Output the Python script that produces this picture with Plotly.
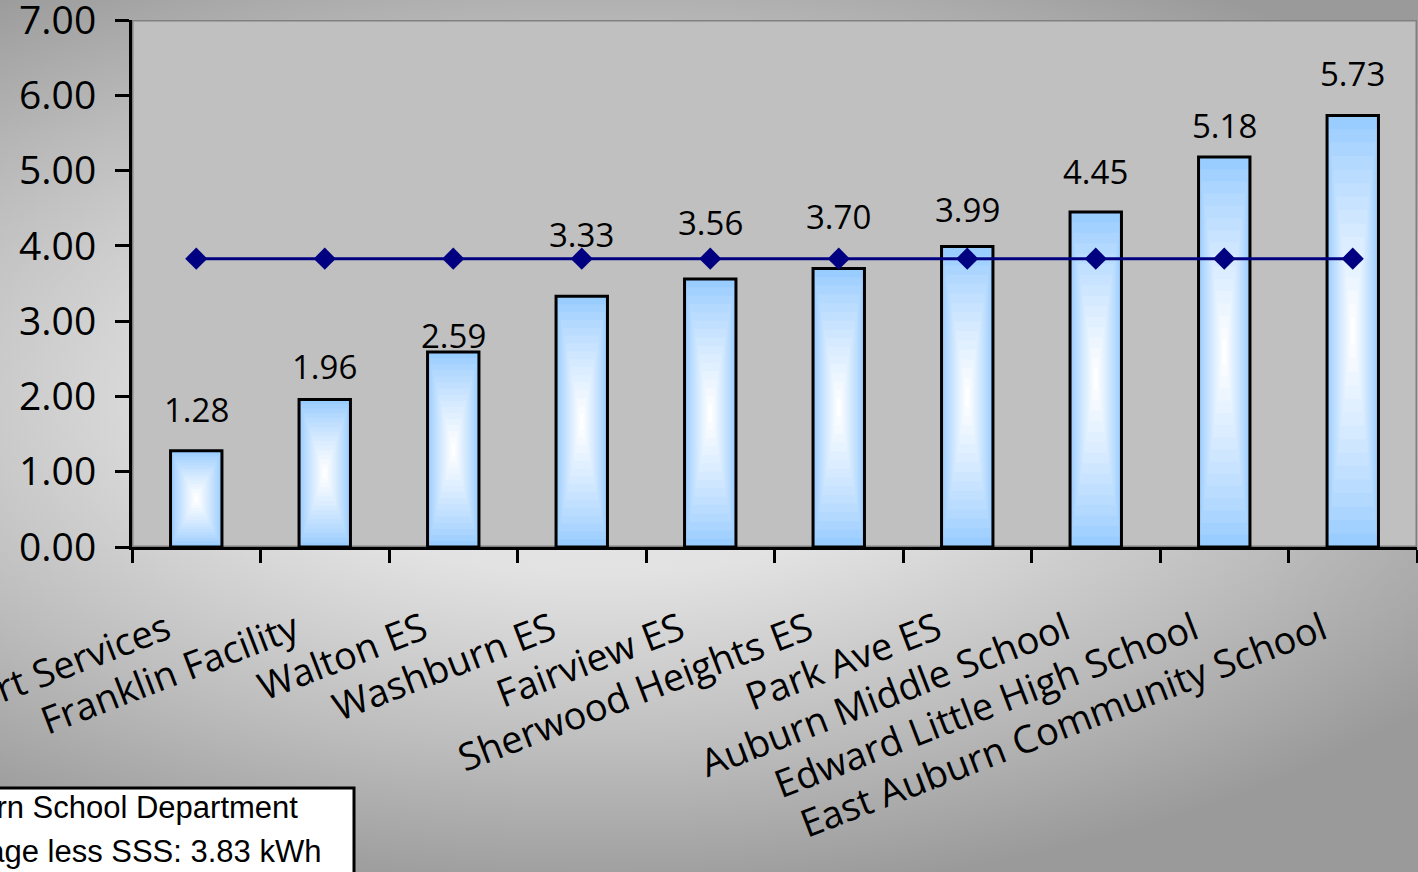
import base64
import plotly.graph_objects as go

# ---------------- data ----------------
categories = [
    "Support Services", "Franklin Facility", "Walton ES", "Washburn ES",
    "Fairview ES", "Sherwood Heights ES", "Park Ave ES",
    "Auburn Middle School", "Edward Little High School",
    "East Auburn Community School",
]
kwh = [1.28, 1.96, 2.59, 3.33, 3.56, 3.70, 3.99, 4.45, 5.18, 5.73]
average_less_sss = 3.83
y_tick_values = [0, 1, 2, 3, 4, 5, 6, 7]
legend_lines = ["Auburn School Department", "Average less SSS: 3.83 kWh"]

# ---------------- geometry / style ----------------
W, H = 1418, 872
ML, MR, MT, MB = 132, 1, 20, 325
PW, PH = W - ML - MR, H - MT - MB
FONT = "Open Sans"
# pixel lift of each data label above its bar top (style only)
label_lift_px = [41, 33, 17, 62, 56, 52, 37, 40, 32, 42]


def px_to_paper_x(px):
    return (px - ML) / PW


def px_to_paper_y(py):
    return (H - MB - py) / PH


def blend(c1, c2, t):
    a = [int(c1[i:i + 2], 16) for i in (1, 3, 5)]
    b = [int(c2[i:i + 2], 16) for i in (1, 3, 5)]
    return "#" + "".join(f"{round(a[i] + (b[i] - a[i]) * t):02x}" for i in range(3))


fig = go.Figure()

# gradient bars: stacked overlay layers shrinking toward the centre
N_LAYERS = 16
BAR_W = 0.4
for k in range(N_LAYERS):
    s = 1 - k / N_LAYERS
    t = k / (N_LAYERS - 1)
    fig.add_trace(go.Bar(
        x=categories,
        y=[v * s for v in kwh],
        base=[v * (1 - s) / 2 for v in kwh],
        width=BAR_W * s,
        marker=dict(color=blend("#99ccff", "#ffffff", t ** 0.85), line=dict(width=0)),
        showlegend=False, hoverinfo="skip",
    ))

# outline bar (the real series)
fig.add_trace(go.Bar(
    x=categories, y=kwh, width=BAR_W, name=legend_lines[0],
    marker=dict(color="rgba(0,0,0,0)", line=dict(color="black", width=3)),
    showlegend=False,
))

# average line
fig.add_trace(go.Scatter(
    x=categories, y=[average_less_sss] * len(categories),
    mode="lines+markers", name=legend_lines[1],
    line=dict(color="#000080", width=3),
    marker=dict(symbol="diamond", size=17, color="#000080"),
    showlegend=False,
))

# data labels
annotations = []
for c, v, lift in zip(categories, kwh, label_lift_px):
    annotations.append(dict(
        x=c, y=v, xref="x", yref="y", text=f"{v:.2f}", showarrow=False,
        yanchor="middle", yshift=lift,
        font=dict(family=FONT, size=33, color="black"),
    ))

# legend-like box (partially cut off at the left edge)
for i, line in enumerate(legend_lines):
    annotations.append(dict(
        xref="paper", yref="paper",
        x=px_to_paper_x(-78), y=px_to_paper_y(808 + 44 * i),
        xanchor="left", yanchor="middle", showarrow=False, text=line,
        font=dict(family="Liberation Sans, Arial", size=31, color="black"),
    ))

shapes = [
    # plot area fill + grey border
    dict(type="rect", xref="x", yref="y", x0=-0.5, x1=len(categories) - 0.5,
         y0=0, y1=7, fillcolor="#c0c0c0", line=dict(color="#808080", width=3),
         layer="below"),
    # legend box
    dict(type="rect", xref="paper", yref="paper",
         x0=px_to_paper_x(-30), x1=px_to_paper_x(354),
         y0=px_to_paper_y(920), y1=px_to_paper_y(788),
         fillcolor="white", line=dict(color="black", width=3), layer="above"),
]

# chart-area radial gradient background as an inline SVG image
svg = f'''<svg xmlns="http://www.w3.org/2000/svg" width="{W}" height="{H}" viewBox="0 0 {W} {H}" preserveAspectRatio="none">
<defs><radialGradient id="g" gradientUnits="userSpaceOnUse" cx="600" cy="400" r="1050"
 gradientTransform="translate(600 400) scale(1 0.476) translate(-600 -400)">
<stop offset="0" stop-color="#eeeeee"/><stop offset="0.35" stop-color="#e2e2e2"/>
<stop offset="0.7" stop-color="#bdbdbd"/><stop offset="1" stop-color="#9a9a9a"/>
</radialGradient></defs>
<rect x="0" y="0" width="{W}" height="{H}" fill="url(#g)"/></svg>'''
bg_uri = "data:image/svg+xml;base64," + base64.b64encode(svg.encode()).decode()

fig.update_layout(
    width=W, height=H,
    margin=dict(l=ML, r=MR, t=MT, b=MB, autoexpand=False),
    barmode="overlay",
    paper_bgcolor="#b0b0b0",
    plot_bgcolor="rgba(0,0,0,0)",
    showlegend=False,
    annotations=annotations,
    shapes=shapes,
    images=[dict(source=bg_uri, xref="paper", yref="paper",
                 x=px_to_paper_x(0), y=px_to_paper_y(0),
                 sizex=W / PW, sizey=H / PH, xanchor="left", yanchor="top",
                 sizing="stretch", layer="below")],
    xaxis=dict(
        type="category", range=[-0.5, len(categories) - 0.5],
        tickangle=-21, tickfont=dict(family=FONT, size=38, color="black"),
        ticks="outside", ticklen=13, tickwidth=3, tickcolor="black",
        tickson="boundaries", showline=True, linecolor="black", linewidth=3,
        showgrid=False, automargin=False,
        ticklabelstandoff=43, ticklabelshift=-30, ticklabeloverflow="allow",
    ),
    yaxis=dict(
        range=[0, 7], tickvals=y_tick_values, tickformat=".2f",
        tickfont=dict(family=FONT, size=39, color="black"),
        ticks="outside", ticklen=14, tickwidth=3, tickcolor="black",
        showline=True, linecolor="black", linewidth=3, showgrid=False,
        zeroline=False, automargin=False, ticklabelstandoff=11,
        ticklabeloverflow="allow",
    ),
)

fig.write_html(
    "out.html",
    config={"displayModeBar": False},
    post_script="document.body.style.margin='0';document.body.style.overflow='hidden';",
)
